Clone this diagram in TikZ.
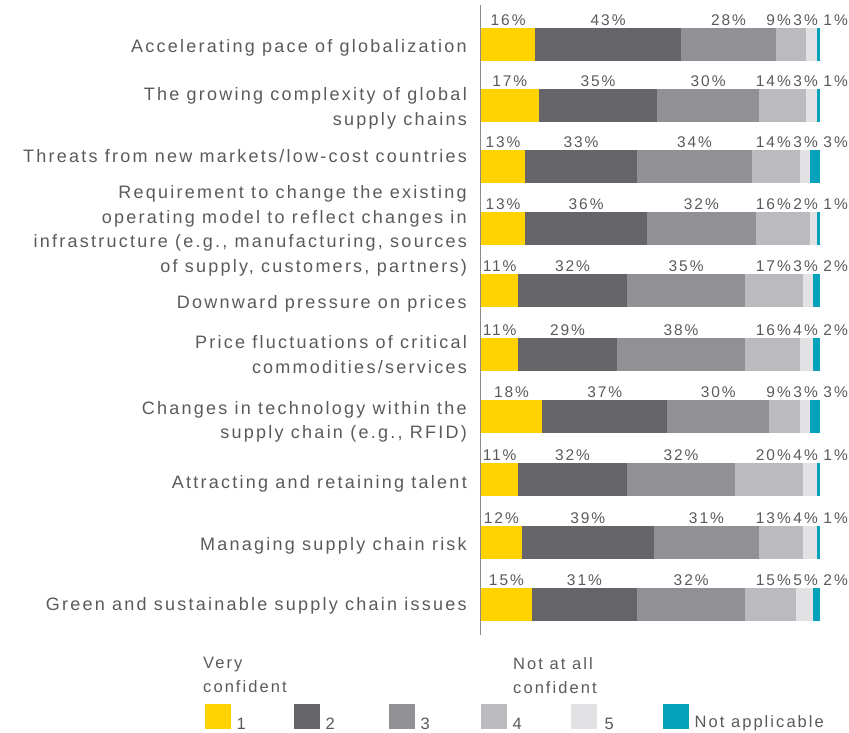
\documentclass[tikz,border=0pt]{standalone}
\usepackage{fontspec}
\setmainfont{Liberation Sans}[LetterSpace=12.5]
\usetikzlibrary{positioning, calc}

\definecolor{conf1}{HTML}{FFD200}
\definecolor{conf2}{HTML}{646469}
\definecolor{conf3}{HTML}{909095}
\definecolor{conf4}{HTML}{BBBBBF}
\definecolor{conf5}{HTML}{E2E2E4}
\definecolor{confna}{HTML}{05A2BC}
\definecolor{txtgray}{HTML}{5A5A5A}
\definecolor{axisgray}{HTML}{8A8A8A}

\newcommand{\barscale}{3.39}

\begin{document}
\begin{tikzpicture}[
        x=1pt, y=-1pt,
        catlabel/.style={anchor=east, align=right, inner sep=0pt, text=txtgray, font=\fontsize{18}{24.5}\selectfont},
        pct/.style={anchor=base, inner sep=0pt, text=txtgray, font=\fontsize{15.5}{18}\selectfont},
        keybox/.style={anchor=north west, inner sep=0pt, minimum width=26pt, minimum height=25pt},
        keytext/.style={inner sep=0pt, text=txtgray, font=\fontsize{16.5}{24}\selectfont}
    ]
    \useasboundingbox (0,0) rectangle (849,733);

    % Bars: top / label y / label / 1 / 2 / 3 / 4 / 5 / n.a.
    \foreach \ytop/\laby/\txt/\pa/\pb/\pc/\pd/\pe/\pn [count=\row] in {
        28/47.5/{Accelerating pace of globalization}/16/43/28/9/3/1,
        89/108.5/{The growing complexity of global\\supply chains}/17/35/30/14/3/1,
        150/156.5/{Threats from new markets/low-cost countries}/13/33/34/14/3/3,
        212/231/{Requirement to change the existing\\operating model to reflect changes in\\infrastructure (e.g., manufacturing, sources\\of supply, customers, partners)}/13/36/32/16/2/1,
        274/303.5/{Downward pressure on prices}/11/32/35/17/3/2,
        338/354.5/{Price fluctuations of critical\\commodities/services}/11/29/38/16/4/2,
        400/422/{Changes in technology within the\\supply chain (e.g., RFID)}/18/37/30/9/3/3,
        463/483.5/{Attracting and retaining talent}/11/32/32/20/4/1,
        526/545.5/{Managing supply chain risk}/12/39/31/13/4/1,
        588/605.5/{Green and sustainable supply chain issues}/15/31/32/15/5/2}{
        \pgfmathsetmacro\xb{481+\pa*\barscale}
        \pgfmathsetmacro\xc{\xb+\pb*\barscale}
        \pgfmathsetmacro\xd{\xc+\pc*\barscale}
        \pgfmathsetmacro\xe{\xd+\pd*\barscale}
        \pgfmathsetmacro\xf{\xe+\pe*\barscale}
        \pgfmathsetmacro\xg{\xf+\pn*\barscale}
        \pgfmathsetmacro\ybot{\ytop+33}
        \fill[conf1] (481,\ytop) rectangle (\xb,\ybot);
        \fill[conf2] (\xb,\ytop) rectangle (\xc,\ybot);
        \fill[conf3] (\xc,\ytop) rectangle (\xd,\ybot);
        \fill[conf4] (\xd,\ytop) rectangle (\xe,\ybot);
        \fill[conf5] (\xe,\ytop) rectangle (\xf,\ybot);
        \fill[confna] (\xf,\ytop) rectangle (\xg,\ybot);
        % category and percentages
        \node (cat\row) [catlabel] at (467,\laby) {\txt};
        \node (pa\row) [pct] at ({(481+\xb)/2},\ytop-2.5) {\pa\%};
        \node (pb\row) [pct] at ({(\xb+\xc)/2},\ytop-2.5) {\pb\%};
        \node (pc\row) [pct] at ({(\xc+\xd)/2},\ytop-2.5) {\pc\%};
        \node (pd\row) [pct, anchor=base east] at (791,\ytop-2.5) {\pd\%};
        \node (pe\row) [pct, anchor=base east] at (818,\ytop-2.5) {\pe\%};
        \node (pn\row) [pct, anchor=base east] at (848,\ytop-2.5) {\pn\%};
    }

    % Axis
    \coordinate (axtop) at (480.3,5);
    \coordinate (axbot) at (480.3,635);
    \draw[axisgray, line width=1.3pt] (axtop) -- (axbot);

    % Legend
    \node (keyhigh) [keytext, anchor=north west, align=left] at (203,657) {Very\\confident};
    \node (keylow) [keytext, anchor=north west, align=left] at (513,657) {Not at all\\confident};
    \node (key1) [keybox, fill=conf1] at (205,704) {};
    \node (key2) [keybox, fill=conf2] at (294,704) {};
    \node (key3) [keybox, fill=conf3] at (389,704) {};
    \node (key4) [keybox, fill=conf4] at (481,704) {};
    \node (key5) [keybox, fill=conf5] at (571,704) {};
    \node (keyna) [keybox, fill=confna] at (663,704) {};
    \node (num1) [keytext, anchor=base west] at ($(key1.south east)+(5,0)$) {1};
    \node (num2) [keytext, anchor=base west] at ($(key2.south east)+(5,0)$) {2};
    \node (num3) [keytext, anchor=base west] at ($(key3.south east)+(5,0)$) {3};
    \node (num4) [keytext, anchor=base west] at ($(key4.south east)+(5,0)$) {4};
    \node (num5) [keytext, anchor=base west] at ($(key5.south east)+(7,0)$) {5};
    \node (numna) [keytext, anchor=base west] at ($(keyna.south east)+(5,-2)$) {Not applicable};

\end{tikzpicture}
\end{document}
